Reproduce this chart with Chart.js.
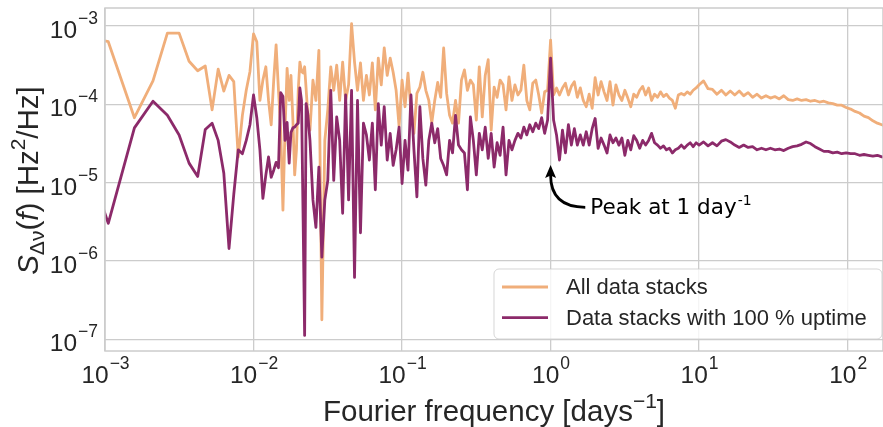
<!DOCTYPE html>
<html>
<head>
<meta charset="utf-8">
<script src="https://cdn.jsdelivr.net/npm/chart.js@4.4.1/dist/chart.umd.min.js"></script>
<style>
  html, body { margin: 0; padding: 0; background: #fff; }
  #wrap { width: 883px; height: 427px; position: relative; }
</style>
</head>
<body>
<div id="wrap"><canvas id="psd"></canvas></div>
<script>
// log10 of Fourier frequency (days^-1)
const logFreq = [
  -3.279, -2.978, -2.802, -2.677, -2.580, -2.501, -2.434, -2.376, -2.325, -2.279,
  -2.238, -2.200, -2.165, -2.133, -2.103, -2.075, -2.049, -2.024, -2.000, -1.978,
  -1.957, -1.937, -1.917, -1.899, -1.881, -1.864, -1.848, -1.832, -1.817, -1.802,
  -1.788, -1.774, -1.760, -1.748, -1.735, -1.723, -1.711, -1.699, -1.688, -1.677,
  -1.666, -1.656, -1.646, -1.636,
  -1.62, -1.60, -1.58, -1.56, -1.54, -1.52, -1.50, -1.48, -1.46, -1.44,
  -1.42, -1.40, -1.38, -1.36, -1.34, -1.32, -1.30, -1.28, -1.26, -1.24,
  -1.22, -1.20, -1.18, -1.16, -1.14, -1.12, -1.10, -1.08, -1.06, -1.04,
  -1.02, -1.00, -0.98, -0.96, -0.94, -0.92, -0.90, -0.88, -0.86, -0.84,
  -0.82, -0.80, -0.78, -0.76, -0.74, -0.72, -0.70, -0.68, -0.66, -0.64,
  -0.62, -0.60, -0.58, -0.56, -0.54, -0.52, -0.50, -0.48, -0.46, -0.44,
  -0.42, -0.40, -0.38, -0.36, -0.34, -0.32, -0.30, -0.28, -0.26, -0.24,
  -0.22, -0.20, -0.18, -0.16, -0.14, -0.12, -0.10, -0.08, -0.06, -0.04,
  -0.02, 0.00, 0.02, 0.04, 0.06, 0.08, 0.10, 0.12, 0.14, 0.16,
  0.18, 0.20, 0.22, 0.24, 0.26, 0.28, 0.30, 0.32, 0.34, 0.36,
  0.38, 0.40, 0.42, 0.44, 0.46, 0.48, 0.50, 0.52, 0.54, 0.56,
  0.58, 0.60, 0.62, 0.64, 0.66, 0.68, 0.70, 0.72, 0.74, 0.76,
  0.78, 0.80, 0.82, 0.84, 0.86, 0.88, 0.90, 0.92, 0.94, 0.96,
  0.98, 1.00, 1.03, 1.06, 1.09, 1.12, 1.15, 1.18, 1.21, 1.24,
  1.27, 1.30, 1.33, 1.36, 1.39, 1.42, 1.45, 1.48, 1.51, 1.54,
  1.57, 1.60, 1.63, 1.66, 1.69, 1.72, 1.75, 1.78, 1.81, 1.84,
  1.87, 1.90, 1.93, 1.96, 1.99, 2.02, 2.05, 2.08, 2.11, 2.14,
  2.17, 2.20, 2.23, 2.26
];

// log10 of S (Hz^2/Hz), all data stacks
const logAllStacks = [
  -3.05, -3.20, -4.17, -3.70, -3.09, -3.09, -3.45, -3.57, -3.51, -4.07,
  -3.55, -3.83, -3.63, -3.71, -4.67, -4.14, -3.82, -3.58, -3.10, -3.20,
  -3.95, -3.69, -3.52, -3.95, -4.26, -3.69, -3.24, -3.82, -4.33, -5.35,
  -4.33, -3.54, -3.95, -3.63, -4.20, -4.90, -4.58, -3.82, -3.46, -3.58,
  -3.60, -3.52, -3.80, -4.10,
  -4.33, -3.69, -3.95, -3.31, -6.75, -4.46, -4.07, -3.52, -3.82, -3.50,
  -3.95, -3.46, -3.95, -3.75, -2.97, -3.46, -3.82, -3.47, -3.95, -3.63,
  -3.88, -3.47, -4.07, -3.41, -3.75, -3.28, -3.63, -3.41, -3.59, -3.82,
  -4.28, -3.69, -4.03, -3.60, -4.07, -4.37, -3.86, -3.78, -3.59, -3.82,
  -3.95, -4.24, -3.95, -3.72, -3.91, -3.28, -3.86, -4.14, -4.24, -3.95,
  -4.24, -3.69, -3.56, -3.82, -3.69, -3.75, -4.20, -3.52, -4.16, -3.63,
  -3.43, -4.33, -3.78, -3.91, -3.69, -3.75, -4.07, -3.65, -3.95, -3.75,
  -3.88, -3.82, -3.50, -3.95, -4.07, -3.73, -3.69, -3.88, -4.11, -3.84,
  -3.82, -3.18, -3.88, -3.79, -3.88, -3.79, -3.73, -3.88, -3.77, -3.71,
  -3.91, -3.79, -3.95, -4.03, -3.87, -4.05, -3.66, -3.88, -3.71, -3.84,
  -3.95, -3.71, -4.01, -3.75, -3.88, -3.95, -3.82, -3.92, -4.03, -3.87,
  -3.91, -3.82, -3.77, -3.88, -3.79, -3.95, -3.87, -3.91, -3.84, -3.90,
  -3.87, -3.92, -3.95, -4.05, -3.88, -3.86, -3.88, -3.84, -3.87, -3.82,
  -3.79, -3.75, -3.70, -3.80, -3.81, -3.87, -3.82, -3.88, -3.83, -3.88,
  -3.83, -3.89, -3.85, -3.91, -3.87, -3.92, -3.89, -3.92, -3.90, -3.93,
  -3.89, -3.94, -3.95, -3.93, -3.95, -3.94, -3.96, -3.95, -3.97, -3.96,
  -3.98, -3.99, -4.01, -4.01, -4.04, -4.06, -4.09, -4.11, -4.15, -4.17,
  -4.21, -4.24, -4.26, -4.28
];

// log10 of S (Hz^2/Hz), data stacks with 100 % uptime
const logFullUptime = [
  -3.80, -5.52, -4.30, -3.96, -4.14, -4.39, -4.75, -4.92, -4.32, -4.24,
  -4.46, -4.88, -5.84, -5.15, -4.58, -4.63, -4.46, -4.26, -3.88, -4.17,
  -4.58, -5.20, -4.90, -4.67, -4.93, -4.84, -4.74, -4.81, -3.85, -3.90,
  -4.46, -4.23, -4.75, -4.36, -4.30, -4.29, -4.26, -4.24, -3.79, -3.95,
  -5.48, -6.95, -3.99, -4.10,
  -4.46, -5.22, -5.57, -4.80, -5.95, -5.22, -4.97, -3.82, -4.97, -4.16,
  -4.46, -5.39, -3.88, -5.22, -3.82, -6.21, -3.95, -5.64, -4.24, -4.39,
  -4.71, -4.24, -5.09, -3.99, -4.52, -4.03, -4.71, -4.37, -4.78, -4.58,
  -4.29, -5.01, -4.46, -4.84, -3.88, -4.58, -5.18, -4.03, -4.69, -5.03,
  -4.46, -4.24, -4.49, -4.31, -4.69, -4.78, -4.90, -4.46, -4.62, -4.14,
  -4.52, -4.58, -4.62, -5.09, -4.16, -4.46, -4.90, -4.37, -4.58, -4.29,
  -4.69, -4.37, -4.80, -4.49, -4.65, -4.29, -4.90, -4.46, -4.58, -4.46,
  -4.37, -4.43, -4.29, -4.39, -4.26, -4.35, -4.24, -4.31, -4.17, -4.37,
  -4.20, -3.41, -4.20, -4.39, -4.71, -4.33, -4.62, -4.26, -4.52, -4.31,
  -4.52, -4.39, -4.52, -4.35, -4.52, -4.31, -4.18, -4.56, -4.43, -4.52,
  -4.62, -4.39, -4.49, -4.43, -4.52, -4.43, -4.65, -4.46, -4.58, -4.40,
  -4.46, -4.56, -4.46, -4.52, -4.46, -4.37, -4.49, -4.52, -4.56, -4.53,
  -4.58, -4.56, -4.62, -4.58, -4.56, -4.52, -4.56, -4.52, -4.49, -4.54,
  -4.49, -4.52, -4.48, -4.53, -4.49, -4.53, -4.47, -4.45, -4.48, -4.52,
  -4.55, -4.52, -4.55, -4.54, -4.58, -4.56, -4.58, -4.56, -4.58, -4.57,
  -4.59, -4.56, -4.54, -4.53, -4.51, -4.48, -4.50, -4.54, -4.57, -4.60,
  -4.60, -4.62, -4.61, -4.63, -4.62, -4.63, -4.63, -4.65, -4.64, -4.65,
  -4.66, -4.65, -4.67, -4.67
];

const xTicks = [1e-3, 1e-2, 1e-1, 1, 10, 100];
const yTicks = [1e-7, 1e-6, 1e-5, 1e-4, 1e-3];
const seriesNames = ['All data stacks', 'Data stacks with 100 % uptime'];
const seriesColors = ['#f0ae7a', '#8c2a6a'];

// annotation: arrow to the 1 day^-1 peak
const peakFreq = 1, peakTipValue = 1.68e-5;
const peakLabelFreq = 1.85, peakLabelValue = 5.0e-6;

const SANS = '"Liberation Sans", Arial, sans-serif';
const TEXT = '#262626';

function toPoints(logs) {
  return logFreq.map((lf, i) => ({ x: Math.pow(10, lf), y: Math.pow(10, logs[i]) }));
}

function pow10Label(ctx, exp, x, baseY, supDy, align) {
  const base = '10';
  const sup = exp < 0 ? '\u2212' + (-exp) : String(exp);
  ctx.font = '24.5px ' + SANS;
  const wb = ctx.measureText(base).width;
  ctx.font = '17.5px ' + SANS;
  const ws = ctx.measureText(sup).width;
  const x0 = align === 'center' ? x - (wb + ws) / 2 : x - wb - ws;
  ctx.font = '24.5px ' + SANS;
  ctx.fillText(base, x0, baseY);
  ctx.font = '17.5px ' + SANS;
  ctx.fillText(sup, x0 + wb + 1, baseY - supDy);
}

// runs: [text, font, baseline shift]
function drawRuns(ctx, runs, cx, baseY) {
  let total = 0;
  const widths = runs.map(r => { ctx.font = r[1]; const w = ctx.measureText(r[0]).width; total += w; return w; });
  let x = cx - total / 2;
  runs.forEach((r, i) => {
    ctx.font = r[1];
    ctx.fillText(r[0], x, baseY + r[2]);
    x += widths[i];
  });
}

const decor = {
  id: 'decor',
  afterDraw(chart) {
    const ctx = chart.ctx, ca = chart.chartArea;
    const xs = chart.scales.x, ys = chart.scales.y;
    ctx.save();

    // frame
    ctx.strokeStyle = '#cccccc';
    ctx.lineWidth = 1.5;
    ctx.strokeRect(ca.left, ca.top, ca.right - ca.left, ca.bottom - ca.top);

    // tick labels
    ctx.fillStyle = TEXT;
    ctx.textAlign = 'left';
    ctx.textBaseline = 'alphabetic';
    xTicks.forEach(v => {
      pow10Label(ctx, Math.round(Math.log10(v)), xs.getPixelForValue(v), ca.bottom + 32, 14.5, 'center');
    });
    yTicks.forEach(v => {
      pow10Label(ctx, Math.round(Math.log10(v)), ca.left - 8, ys.getPixelForValue(v) + 12, 14, 'right');
    });

    // axis titles
    const big = '29.5px ' + SANS, bigIt = 'italic 29.5px ' + SANS, small = '21px ' + SANS;
    drawRuns(ctx, [
      ['Fourier frequency [days', big, 0],
      ['\u22121', small, -13],
      [']', big, 0]
    ], (ca.left + ca.right) / 2, 421);

    ctx.save();
    ctx.translate(38, (ca.top + ca.bottom) / 2 + 1);
    ctx.rotate(-Math.PI / 2);
    drawRuns(ctx, [
      ['S', bigIt, 0],
      ['\u0394\u03bd', small, 6],
      ['(', big, 0],
      ['f', bigIt, 0],
      [') [Hz', big, 0],
      ['2', small, -13],
      ['/Hz]', big, 0]
    ], 0, 0);
    ctx.restore();

    // annotation
    const tipX = xs.getPixelForValue(peakFreq), tipY = ys.getPixelForValue(peakTipValue);
    const lblX = xs.getPixelForValue(peakLabelFreq), lblY = ys.getPixelForValue(peakLabelValue);
    ctx.strokeStyle = '#000';
    ctx.fillStyle = '#000';
    ctx.lineWidth = 2.8;
    ctx.beginPath();
    ctx.moveTo(lblX - 5, lblY + 1);
    ctx.quadraticCurveTo(tipX, lblY + 1, tipX, tipY + 10);
    ctx.stroke();
    ctx.beginPath();
    ctx.moveTo(tipX, tipY);
    ctx.lineTo(tipX + 5.5, tipY + 13);
    ctx.lineTo(tipX, tipY + 10.5);
    ctx.lineTo(tipX - 5.5, tipY + 13);
    ctx.closePath();
    ctx.fill();
    ctx.font = '21.5px "DejaVu Sans", sans-serif';
    ctx.fillText('Peak at 1 day', lblX, lblY + 7.5);
    const pw = ctx.measureText('Peak at 1 day').width;
    ctx.font = '14px "DejaVu Sans", sans-serif';
    ctx.fillText('-1', lblX + pw + 1, lblY - 1);

    // legend
    const lw = 388, lh = 70;
    const lx = ca.right - lw - 1, ly = ca.bottom - lh - 12;
    ctx.beginPath();
    ctx.roundRect(lx, ly, lw, lh, 5);
    ctx.fillStyle = 'rgba(255,255,255,0.8)';
    ctx.fill();
    ctx.strokeStyle = 'rgba(204,204,204,0.8)';
    ctx.lineWidth = 1;
    ctx.stroke();
    ctx.font = '22px ' + SANS;
    ctx.textBaseline = 'middle';
    seriesNames.forEach((name, i) => {
      const ry = ly + 18 + i * 30.6;
      ctx.strokeStyle = seriesColors[i];
      ctx.lineWidth = 2.8;
      ctx.beginPath();
      ctx.moveTo(lx + 8, ry);
      ctx.lineTo(lx + 54, ry);
      ctx.stroke();
      ctx.fillStyle = TEXT;
      ctx.fillText(name, lx + 72, ry + 1);
    });

    ctx.restore();
  }
};

new Chart(document.getElementById('psd'), {
  type: 'line',
  data: {
    datasets: [
      { label: seriesNames[0], data: toPoints(logAllStacks), borderColor: seriesColors[0], order: 2 },
      { label: seriesNames[1], data: toPoints(logFullUptime), borderColor: seriesColors[1], order: 1 }
    ]
  },
  options: {
    responsive: true,
    maintainAspectRatio: false,
    devicePixelRatio: 1,
    animation: false,
    events: [],
    layout: { padding: { top: 8, right: 0, left: 0, bottom: 0 } },
    elements: {
      point: { radius: 0 },
      line: { borderWidth: 2.8, tension: 0, borderJoinStyle: 'round', fill: false }
    },
    datasets: { line: { clip: 0 } },
    plugins: { legend: { display: false }, tooltip: { enabled: false } },
    scales: {
      x: {
        type: 'logarithmic',
        min: 1e-3,
        max: 173,
        grid: { color: '#cccccc', lineWidth: 1.3, drawTicks: false },
        border: { display: false },
        ticks: { display: false },
        afterBuildTicks: s => { s.ticks = xTicks.map(v => ({ value: v })); },
        afterFit: s => { s.height = 76; }
      },
      y: {
        type: 'logarithmic',
        min: 7.1e-8,
        max: 1.7e-3,
        grid: { color: '#cccccc', lineWidth: 1.3, drawTicks: false },
        border: { display: false },
        ticks: { display: false },
        afterBuildTicks: s => { s.ticks = yTicks.map(v => ({ value: v })); },
        afterFit: s => { s.width = 105; }
      }
    }
  },
  plugins: [decor]
});
</script>
</body>
</html>
